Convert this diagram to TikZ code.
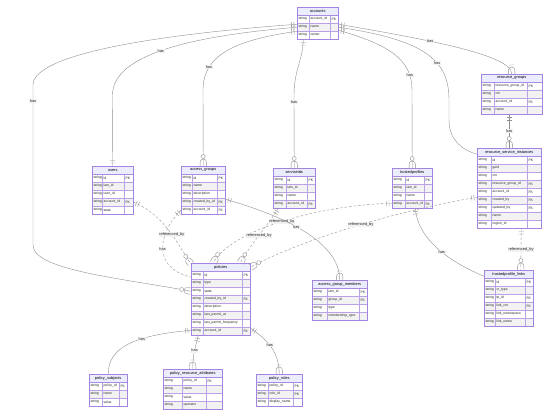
\documentclass[tikz,border=0pt]{standalone}
\usepackage{fontspec}
\setmainfont{Liberation Sans}
\usetikzlibrary{decorations.markings,calc}
\definecolor{erline}{HTML}{9370DB}
\definecolor{erheadfill}{HTML}{ECECFF}
\definecolor{errowfill}{HTML}{F2F2F2}
\definecolor{eredge}{HTML}{909090}
\tikzset{
erhead/.style={rectangle,draw=erline!80,fill=erheadfill,line width=0.4pt,inner sep=0pt,minimum height=8pt,font=\fontsize{3.9}{4}\selectfont},
ercell/.style={draw=erline!65,line width=0.3pt},
ertext/.style={inner sep=0pt,anchor=west,font=\fontsize{3.4}{4}\selectfont,text=black!85},
erframe/.style={rectangle,draw=erline!85,line width=0.5pt,inner sep=0pt},
erlink/.style={draw=eredge,line width=0.4pt},
erref/.style={erlink,dash pattern=on 2.5pt off 2pt},
erlabel/.style={font=\fontsize{3.9}{4}\selectfont,inner sep=0.6pt,fill=black!5,text=black!85},
ermark/.style={draw=eredge,line width=0.4pt,solid},
erone/.style={postaction={decorate,decoration={markings,
  mark=at position 0 with {\draw[ermark] (3pt,-2.6pt)--(3pt,2.6pt) (5.5pt,-2.6pt)--(5.5pt,2.6pt);}}}},
eronly/.style={postaction={decorate,decoration={markings,
  mark=at position 1 with {\draw[ermark] (-3pt,-2.6pt)--(-3pt,2.6pt) (-5.5pt,-2.6pt)--(-5.5pt,2.6pt);}}}},
ermany/.style={postaction={decorate,decoration={markings,
  mark=at position 1 with {\draw[ermark] (-7pt,0) .. controls (-6pt,3.2pt) .. (0,3.2pt) (-7pt,0) .. controls (-6pt,-3.2pt) .. (0,-3.2pt);
    \draw[ermark,fill=white] (-9.5pt,0) circle (2pt);}}}},
eronemany/.style={postaction={decorate,decoration={markings,
  mark=at position 1 with {\draw[ermark] (-7pt,0) .. controls (-6pt,3.2pt) .. (0,3.2pt) (-7pt,0) .. controls (-6pt,-3.2pt) .. (0,-3.2pt);
    \draw[ermark] (-9pt,-2.6pt)--(-9pt,2.6pt);}}}}
}
% one entity: name, top left x/y, column widths, title, rows type/name/key
\newcommand{\erentity}[8]{%
  \pgfmathsetmacro{\erw}{#4+#5+#6}%
  \foreach \ertype/\ername/\erkey [count=\eri] in {#8} {%
    \pgfmathsetmacro{\ery}{#3+8*\eri}%
    \ifodd\eri\relax\def\erfill{white}\else\def\erfill{errowfill}\fi
    \draw[ercell,fill=\erfill] (#2,\ery) rectangle ++(#4,8) rectangle ++(#5,-8) rectangle ++(#6,8);
    \node[ertext] at (#2+1.3,\ery+4) {\ertype};
    \node[ertext] at (#2+#4+1.3,\ery+4) {\ername};
    \node[ertext] at (#2+#4+#5+1.3,\ery+4) {\erkey};
    \xdef\ern{\eri}%
  }%
  \node[erhead,minimum width=\erw pt,anchor=north west] at (#2,#3) {#7};
  \pgfmathsetmacro{\erh}{8*(\ern+1)}%
  \node[erframe,minimum width=\erw pt,minimum height=\erh pt,anchor=north west] (#1) at (#2,#3) {};
}

\begin{document}
\begin{tikzpicture}[x=1pt,y=-1pt]
\useasboundingbox (0,0) rectangle (552,417);
\fill[white] (0,0) rectangle (552,417);

% entities
\erentity{accounts}{297}{7}{12}{21}{8}{accounts}
  {string/account\_id/PK,string/name/{},string/owner/{}}
\erentity{rg}{481}{74}{13}{33}{15}{resource\_groups}
  {string/resource\_group\_id/PK,string/crn/{},string/account\_id/FK,string/name/{}}
\erentity{rsi}{477}{148}{14}{36}{14}{resource\_service\_instances}
  {string/id/PK,string/guid/{},string/crn/{},string/resource\_group\_id/FK,string/account\_id/FK,
   string/created\_by/FK,string/updated\_by/FK,string/name/{},string/region\_id/{}}
\erentity{users}{92}{166}{10}{22}{9}{users}
  {string/id/PK,string/iam\_id/{},string/user\_id/{},string/account\_id/FK,string/state/{}}
\erentity{accessgroups}{181}{166}{11}{25}{8}{access\_groups}
  {string/id/PK,string/name/{},string/description/{},string/created\_by\_id/FK,string/account\_id/FK}
\erentity{serviceids}{273}{168}{13}{21}{8}{serviceids}
  {string/id/PK,string/iam\_id/{},string/name/{},string/account\_id/FK}
\erentity{trustedprofiles}{392}{168}{13}{19}{8}{trustedprofiles}
  {string/id/PK,string/iam\_id/{},string/name/{},string/account\_id/FK}
\erentity{policies}{191}{263}{12}{39}{8}{policies}
  {string/id/PK,string/type/{},string/state/{},string/created\_by\_id/FK,string/description/{},
   string/last\_permit\_at/{},string/last\_permit\_frequency/{},string/account\_id/FK}
\erentity{agm}{312}{280}{15}{32}{8}{access\_group\_members}
  {string/iam\_id/PK,string/group\_id/FK,string/type/{},string/membership\_type/{}}
\erentity{tpl}{484}{270}{11}{30}{8}{trustedprofile\_links}
  {string/id/PK,string/cr\_type/{},string/tp\_id/FK,string/link\_crn/FK,string/link\_namespace/{},string/link\_name/{}}
\erentity{ps}{89}{374}{13}{17}{8}{policy\_subjects}
  {string/policy\_id/FK,string/name/{},string/value/{}}
\erentity{pra}{163}{369}{19}{24}{16}{policy\_resource\_attributes}
  {string/policy\_id/FK,string/name/{},string/value/{},string/operator/{}}
\erentity{proles}{256}{374}{12}{25}{9}{policy\_roles}
  {string/policy\_id/PK,string/role\_id/PK,string/display\_name/{}}

% accounts relations
\draw[erlink,erone,ermany] ([yshift=-1pt]accounts.west) .. controls (150,35) and (33,55) .. (33,85)
  -- node[erlabel,pos=0.1]{has} (33,245) .. controls (33,270) and (120,278) .. ([yshift=8pt]policies.west);
\draw[erlink,erone,eronly] ([yshift=-4pt]accounts.west) .. controls (190,36) and (112.5,55) ..
  node[erlabel,pos=0.52]{has} (112.5,95) -- (users.north);
\draw[erlink,erone,ermany] ([yshift=-8pt]accounts.west) .. controls (235,40) and (203,55) ..
  node[erlabel,pos=0.75]{has} (203,90) -- (accessgroups.north);
\draw[erlink,erone,ermany] ([xshift=-14.5pt]accounts.south) .. controls (303,60) and (294,70) .. (294,95)
  -- node[erlabel,pos=0.1]{has} (serviceids.north);
\draw[erlink,erone,ermany] ([yshift=-7pt]accounts.east) .. controls (390,45) and (412,60) ..
  node[erlabel,pos=0.82]{has} (412,90) -- (trustedprofiles.north);
\draw[erlink,erone,ermany] ([yshift=-4pt]accounts.east) .. controls (425,40) and (449,60) ..
  node[erlabel,pos=0.63]{has} (449,100) -- (449,120) .. controls (449,140) and (462,150) .. ([yshift=34pt]rsi.west);
\draw[erlink,erone,eronemany] ([yshift=-1pt]accounts.east) .. controls (430,40) and (511.5,55) ..
  node[erlabel,pos=0.36]{has} (rg.north);

% resources and profiles
\draw[erlink,erone,ermany] (rg.south -| rsi.north) -- node[erlabel]{has} (rsi.north);
\draw[erref,erone,ermany] ([xshift=12pt]rsi.south) -- node[erlabel]{referenced\_by} ([xshift=12pt]tpl.north);
\draw[erlink,erone,ermany] ([xshift=3pt]trustedprofiles.south) .. controls (418,240) and (450,262) ..
  node[erlabel,pos=0.55]{has} ([yshift=22pt]tpl.west);

% references into policies
\draw[erref,erone,ermany] ([yshift=-9pt]rsi.west) .. controls (400,210) and (300,240) ..
  node[erlabel,pos=0.47]{referenced\_by} ([yshift=32pt]policies.east);
\draw[erref,erone,ermany] ([yshift=-15pt]trustedprofiles.west) .. controls (320,205) and (230,230) ..
  node[erlabel,pos=0.5]{referenced\_by} ([xshift=-7.5pt]policies.north);
\draw[erref,erone,ermany] ([xshift=-16pt]serviceids.south) .. controls (268,225) and (250,245) ..
  node[erlabel,pos=0.5]{referenced\_by} ([xshift=19.5pt]policies.north);
\draw[erref,erone,ermany] ([yshift=-12pt]users.east) .. controls (165,215) and (178,245) ..
  node[erlabel,pos=0.55]{referenced\_by} ([yshift=35pt]policies.west);
\draw[erref,erone,ermany] ([yshift=-20pt]accessgroups.west) .. controls (165,225) and (145,265) ..
  node[erlabel,pos=0.55]{has} ([yshift=22pt]policies.west);
\draw[erlink,erone,eronemany] ([yshift=-9pt]accessgroups.east) .. controls (280,215) and (339.5,240) ..
  node[erlabel,pos=0.45]{has} (agm.north);

% policy details
\draw[erlink,erone,eronemany] ([yshift=-31pt]policies.west) .. controls (140,335) and (108,345) ..
  node[erlabel,pos=0.38]{has} (ps.north);
\draw[erlink,erone,eronemany] ([xshift=-22.5pt]policies.south) .. controls (196,345) and (192.5,355) ..
  node[erlabel,pos=0.5]{has} (pra.north);
\draw[erlink,erone,eronemany] ([yshift=-29pt]policies.east) .. controls (268,340) and (279,352) ..
  node[erlabel,pos=0.45]{has} (proles.north);
\end{tikzpicture}
\end{document}
